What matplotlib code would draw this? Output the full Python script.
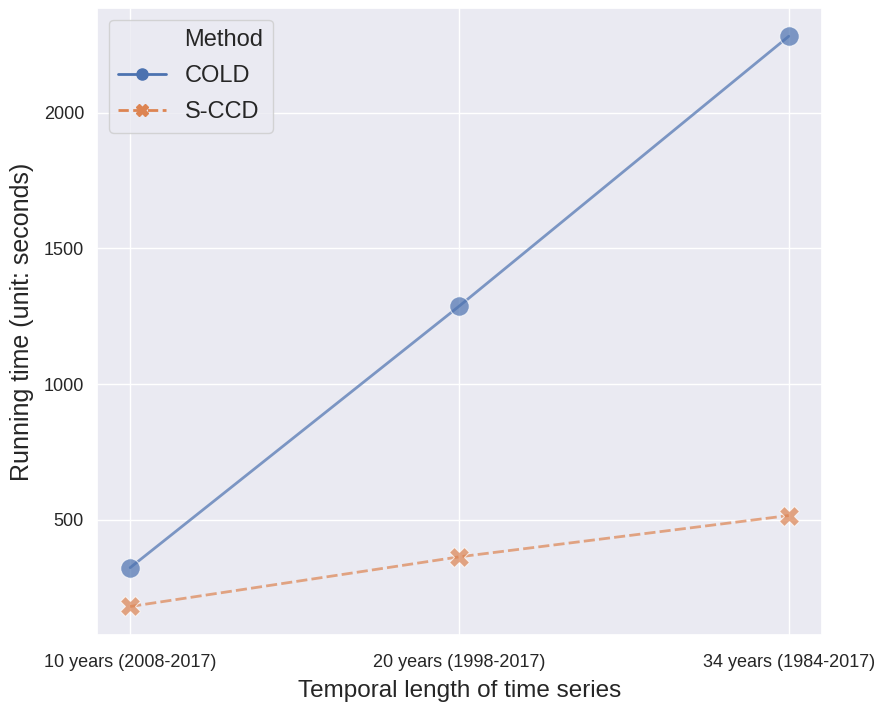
import matplotlib
matplotlib.use("Agg")
import matplotlib.pyplot as plt
from matplotlib.lines import Line2D
import seaborn as sns
import pandas as pd

# === Data ===
periods = ["10 years (2008-2017)", "20 years (1998-2017)", "34 years (1984-2017)"]
cold_time = [324, 1288, 2281]
sccd_time = [181, 364, 516]

df = pd.DataFrame({
    "period": periods * 2,
    "time": cold_time + sccd_time,
    "Method": ["COLD"] * 3 + ["S-CCD"] * 3,
})

sns.set_theme(style="darkgrid")
plt.rcParams["font.family"] = ["Liberation Sans", "DejaVu Sans"]

fig = plt.figure(figsize=(8.76, 7.04), dpi=100)
ax = fig.add_axes([0.111, 0.098, 0.827, 0.891])

sns.lineplot(data=df, x="period", y="time", hue="Method", style="Method",
             markers=["o", "X"], markersize=14, linewidth=2, alpha=0.7,
             sort=False, ax=ax, legend=False)

ax.set_xlabel("Temporal length of time series", fontsize=17.5, labelpad=6)
ax.set_ylabel("Running time (unit: seconds)", fontsize=18, labelpad=7)
ax.tick_params(axis="both", labelsize=13)
ax.tick_params(axis="x", pad=8)
ax.set_yticks([500, 1000, 1500, 2000])

# old-style seaborn legend: title as a row with an empty handle
pal = sns.color_palette()
handles = [
    Line2D([], [], linestyle="none", marker="none"),
    Line2D([], [], color=pal[0], linewidth=2, marker="o", markersize=8),
    Line2D([], [], color=pal[1], linewidth=2, linestyle="--", marker="X", markersize=8),
]
labels = ["Method", "COLD", "S-CCD"]
ax.legend(handles, labels, fontsize=17, loc="upper left", frameon=True,
          borderaxespad=0.5, labelspacing=0.6)

fig.savefig("out.png", dpi=100)
